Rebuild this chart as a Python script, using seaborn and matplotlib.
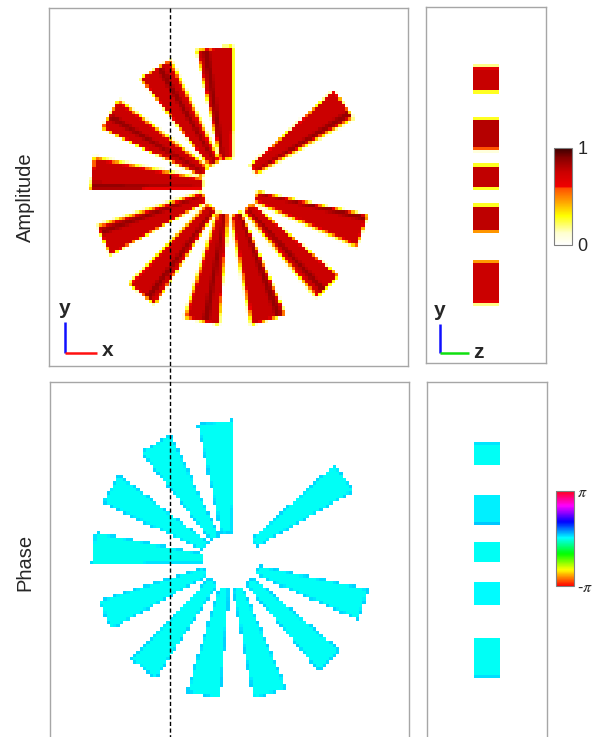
import numpy as np
import matplotlib
matplotlib.use("Agg")
import matplotlib.pyplot as plt
import seaborn as sns
from matplotlib.colors import LinearSegmentedColormap
from matplotlib.lines import Line2D

# star target wedges (x-y view): outer-corner angles in degrees ccw from +x,
# radii and inner widths in image px
wedge_start = [29.5, 88.5, 115.0, 142.0, 168.0, 197.0, 225.0, 252.0, 280.0, 309.0, 335.5]
wedge_end = [42.6, 103.0, 129.0, 155.0, 181.5, 210.0, 238.0, 266.0, 294.0, 321.0, 348.6]
wedge_r_in = [30, 28, 27, 28, 26, 26, 26, 27, 28, 28, 29]
wedge_r_out = [142, 140, 139, 139, 137, 136, 138, 137, 139, 141, 141]
wedge_w_in = [9, 11, 10, 10, 9, 9, 10, 10, 10, 10, 9]
wedge_amp = [0.75, 0.76, 0.75, 0.75, 0.76, 0.75, 0.75, 0.76, 0.76, 0.75, 0.75]
wedge_stripe = [0.15, 0.75, 0.35, 0.55, 0.85, 0.2, 0.7, 0.6, 0.8, 0.3, 0.9]
wedge_phase = [0.0, 0.0, 0.02, 0.0, -0.02, 0.0, 0.0, 0.02, 0.0, 0.02, 0.0]

# y-z slice: five blocks, image px from the panel top / left
block_top = [61, 113, 160, 200, 255]
block_bottom = [83, 141, 180, 224, 295]
block_z = [46.7, 73.3]
block_amp = [0.76, 0.80, 0.77, 0.78, 0.75]
block_phase = [0.0, 0.1, 0.0, 0.05, 0.02]

FIG_W, FIG_H = 595, 737
SUB = 4
HALO = 2.5
HALO_AMP = 0.36
STRIPE_AMP = 0.87


def sub_grid(n, size):
    offs = (np.arange(SUB) + 0.5) / SUB
    return (np.arange(n)[:, None] + offs[None, :]).ravel() * size / n


def cover(mask, rows, cols):
    return mask.reshape(rows, SUB, cols, SUB).mean(axis=(1, 3))


def star_maps(n=108, size=359.0):
    c = sub_grid(n, size) - size / 2
    X, Y = np.meshgrid(c, -c)
    amp = np.zeros((n, n))
    ph = np.zeros((n, n))
    cov_all = np.zeros((n, n))
    for a0, a1, r0, r1, w0, a, s, p in zip(wedge_start, wedge_end, wedge_r_in,
                                           wedge_r_out, wedge_w_in, wedge_amp,
                                           wedge_stripe, wedge_phase):
        mid = np.radians((a0 + a1) / 2)
        proj = X * np.cos(mid) + Y * np.sin(mid)
        perp = -X * np.sin(mid) + Y * np.cos(mid)
        hw1 = r1 * np.tan(np.radians((a1 - a0) / 2))
        hw = w0 / 2 + (hw1 - w0 / 2) * (proj - r0) / (r1 - r0)
        radial = (proj >= r0) & (proj <= r1)
        body = radial & (np.abs(perp) <= hw)
        halo = radial & (perp < -hw) & (perp >= -hw - HALO)
        frac = (perp + hw) / (2 * hw)
        stripe = body & (np.abs(frac - s) < 0.09)
        cv_body = cover(body, n, n)
        cv_halo = cover(halo, n, n)
        cv_str = cover(stripe, n, n)
        amp += (cv_body - cv_str) * a + cv_str * STRIPE_AMP + cv_halo * HALO_AMP
        ph += cv_body * (p + (1 - cv_body) * 0.9)
        cov_all += cv_body
    return amp, ph, cov_all


def block_maps(rows=107, cols=36, h=356.0, w=120.0):
    ys = sub_grid(rows, h)
    xs = sub_grid(cols, w)
    X, Y = np.meshgrid(xs, ys)
    amp = np.zeros((rows, cols))
    ph = np.zeros((rows, cols))
    cov_all = np.zeros((rows, cols))
    zin = (X >= block_z[0]) & (X <= block_z[1])
    for t, b, a, p in zip(block_top, block_bottom, block_amp, block_phase):
        body = zin & (Y >= t) & (Y <= b)
        halo = zin & (((Y >= t - HALO) & (Y < t)) | ((Y > b) & (Y <= b + HALO)))
        cv = cover(body, rows, cols)
        amp += cv * a + cover(halo, rows, cols) * HALO_AMP
        ph += cv * (p + (1 - cv) * 0.9)
        cov_all += cv
    return amp, ph, cov_all


def px_rect(x0, y0, x1, y1):
    return [x0 / FIG_W, 1 - y1 / FIG_H, (x1 - x0) / FIG_W, (y1 - y0) / FIG_H]


sns.set_style("white")
plt.rcParams["font.family"] = ["Liberation Sans", "DejaVu Sans"]
plt.rcParams["mathtext.fontset"] = "stix"

amp_cmap = LinearSegmentedColormap.from_list("amp", [
    (0.0, "#ffffff"), (0.12, "#ffffd0"), (0.3, "#ffff00"), (0.45, "#ffa000"),
    (0.585, "#ff5000"), (0.6, "#f00000"), (0.75, "#cc0000"), (0.9, "#860000"),
    (1.0, "#3a0000")])
amp_cmap.set_bad("white")
ph_cmap = plt.get_cmap("hsv").copy()
ph_cmap.set_bad("white")

star_amp, star_ph, star_cov = star_maps()
blk_amp, blk_ph, blk_cov = block_maps()

fig = plt.figure(figsize=(FIG_W / 100, FIG_H / 100), dpi=100)
ax_xy = fig.add_axes(px_rect(49, 8, 408, 366))
ax_yz = fig.add_axes(px_rect(426, 7, 546, 363))
ax_pxy = fig.add_axes(px_rect(50, 382, 409, 740))
ax_pyz = fig.add_axes(px_rect(427, 382, 547, 738))

panels = [
    (ax_xy, star_amp, star_amp < 0.02, amp_cmap, 0, 1),
    (ax_yz, blk_amp, blk_amp < 0.02, amp_cmap, 0, 1),
    (ax_pxy, star_ph, star_cov < 0.35, ph_cmap, -np.pi, np.pi),
    (ax_pyz, blk_ph, blk_cov < 0.35, ph_cmap, -np.pi, np.pi),
]
for ax, data, msk, cmap, lo, hi in panels:
    sns.heatmap(data, mask=msk, cmap=cmap, vmin=lo, vmax=hi, cbar=False,
                xticklabels=False, yticklabels=False, ax=ax)
    ax.set_xticks([])
    ax.set_yticks([])
    for sp in ax.spines.values():
        sp.set_visible(True)
        sp.set_color("#a6a6a6")
        sp.set_linewidth(1.0)

# colorbars
cax1 = fig.add_axes(px_rect(554, 148, 572, 245))
cb1 = fig.colorbar(ax_xy.collections[0], cax=cax1, ticks=[0, 1])
cb1.ax.set_yticklabels(["0", "1"], fontsize=13)
cb1.ax.tick_params(length=0, pad=4)
cax2 = fig.add_axes(px_rect(556, 491, 574, 586))
cb2 = fig.colorbar(ax_pxy.collections[0], cax=cax2, ticks=[-np.pi, np.pi])
cb2.ax.set_yticklabels([r"-$\pi$", r"$\pi$"], fontsize=11.5)
cb2.ax.tick_params(length=0, pad=2)
for cb in (cb1, cb2):
    cb.outline.set_edgecolor("#808080")
    cb.outline.set_linewidth(0.8)

# row labels
fig.text(25 / FIG_W, 1 - 197 / FIG_H, "Amplitude", rotation=90,
         ha="center", va="center", fontsize=14.5)
fig.text(25 / FIG_W, 1 - 562 / FIG_H, "Phase", rotation=90,
         ha="center", va="center", fontsize=14.5)


def fig_line(x, y, **kw):
    fig.add_artist(Line2D([v / FIG_W for v in x], [1 - v / FIG_H for v in y],
                          transform=fig.transFigure, **kw))


def fig_label(x, y, s):
    fig.text(x / FIG_W, 1 - y / FIG_H, s, ha="center", va="center",
             fontsize=15, fontweight="bold")


# axis triads
fig_line([65, 65], [322, 353], color="#1010ff", lw=1.8, solid_capstyle="butt")
fig_line([65, 97], [353, 353], color="#ff1010", lw=1.8, solid_capstyle="butt")
fig_label(65, 308, "y")
fig_label(108, 351, "x")
fig_line([440, 440], [324, 353], color="#1010ff", lw=1.8, solid_capstyle="butt")
fig_line([440, 469], [353, 353], color="#10e010", lw=1.8, solid_capstyle="butt")
fig_label(440, 310, "y")
fig_label(478, 353, "z")

# slice position
fig_line([170, 170], [8, 737], color="black", lw=1.0, dashes=(3.0, 1.8))

fig.savefig("out.png", dpi=100)
